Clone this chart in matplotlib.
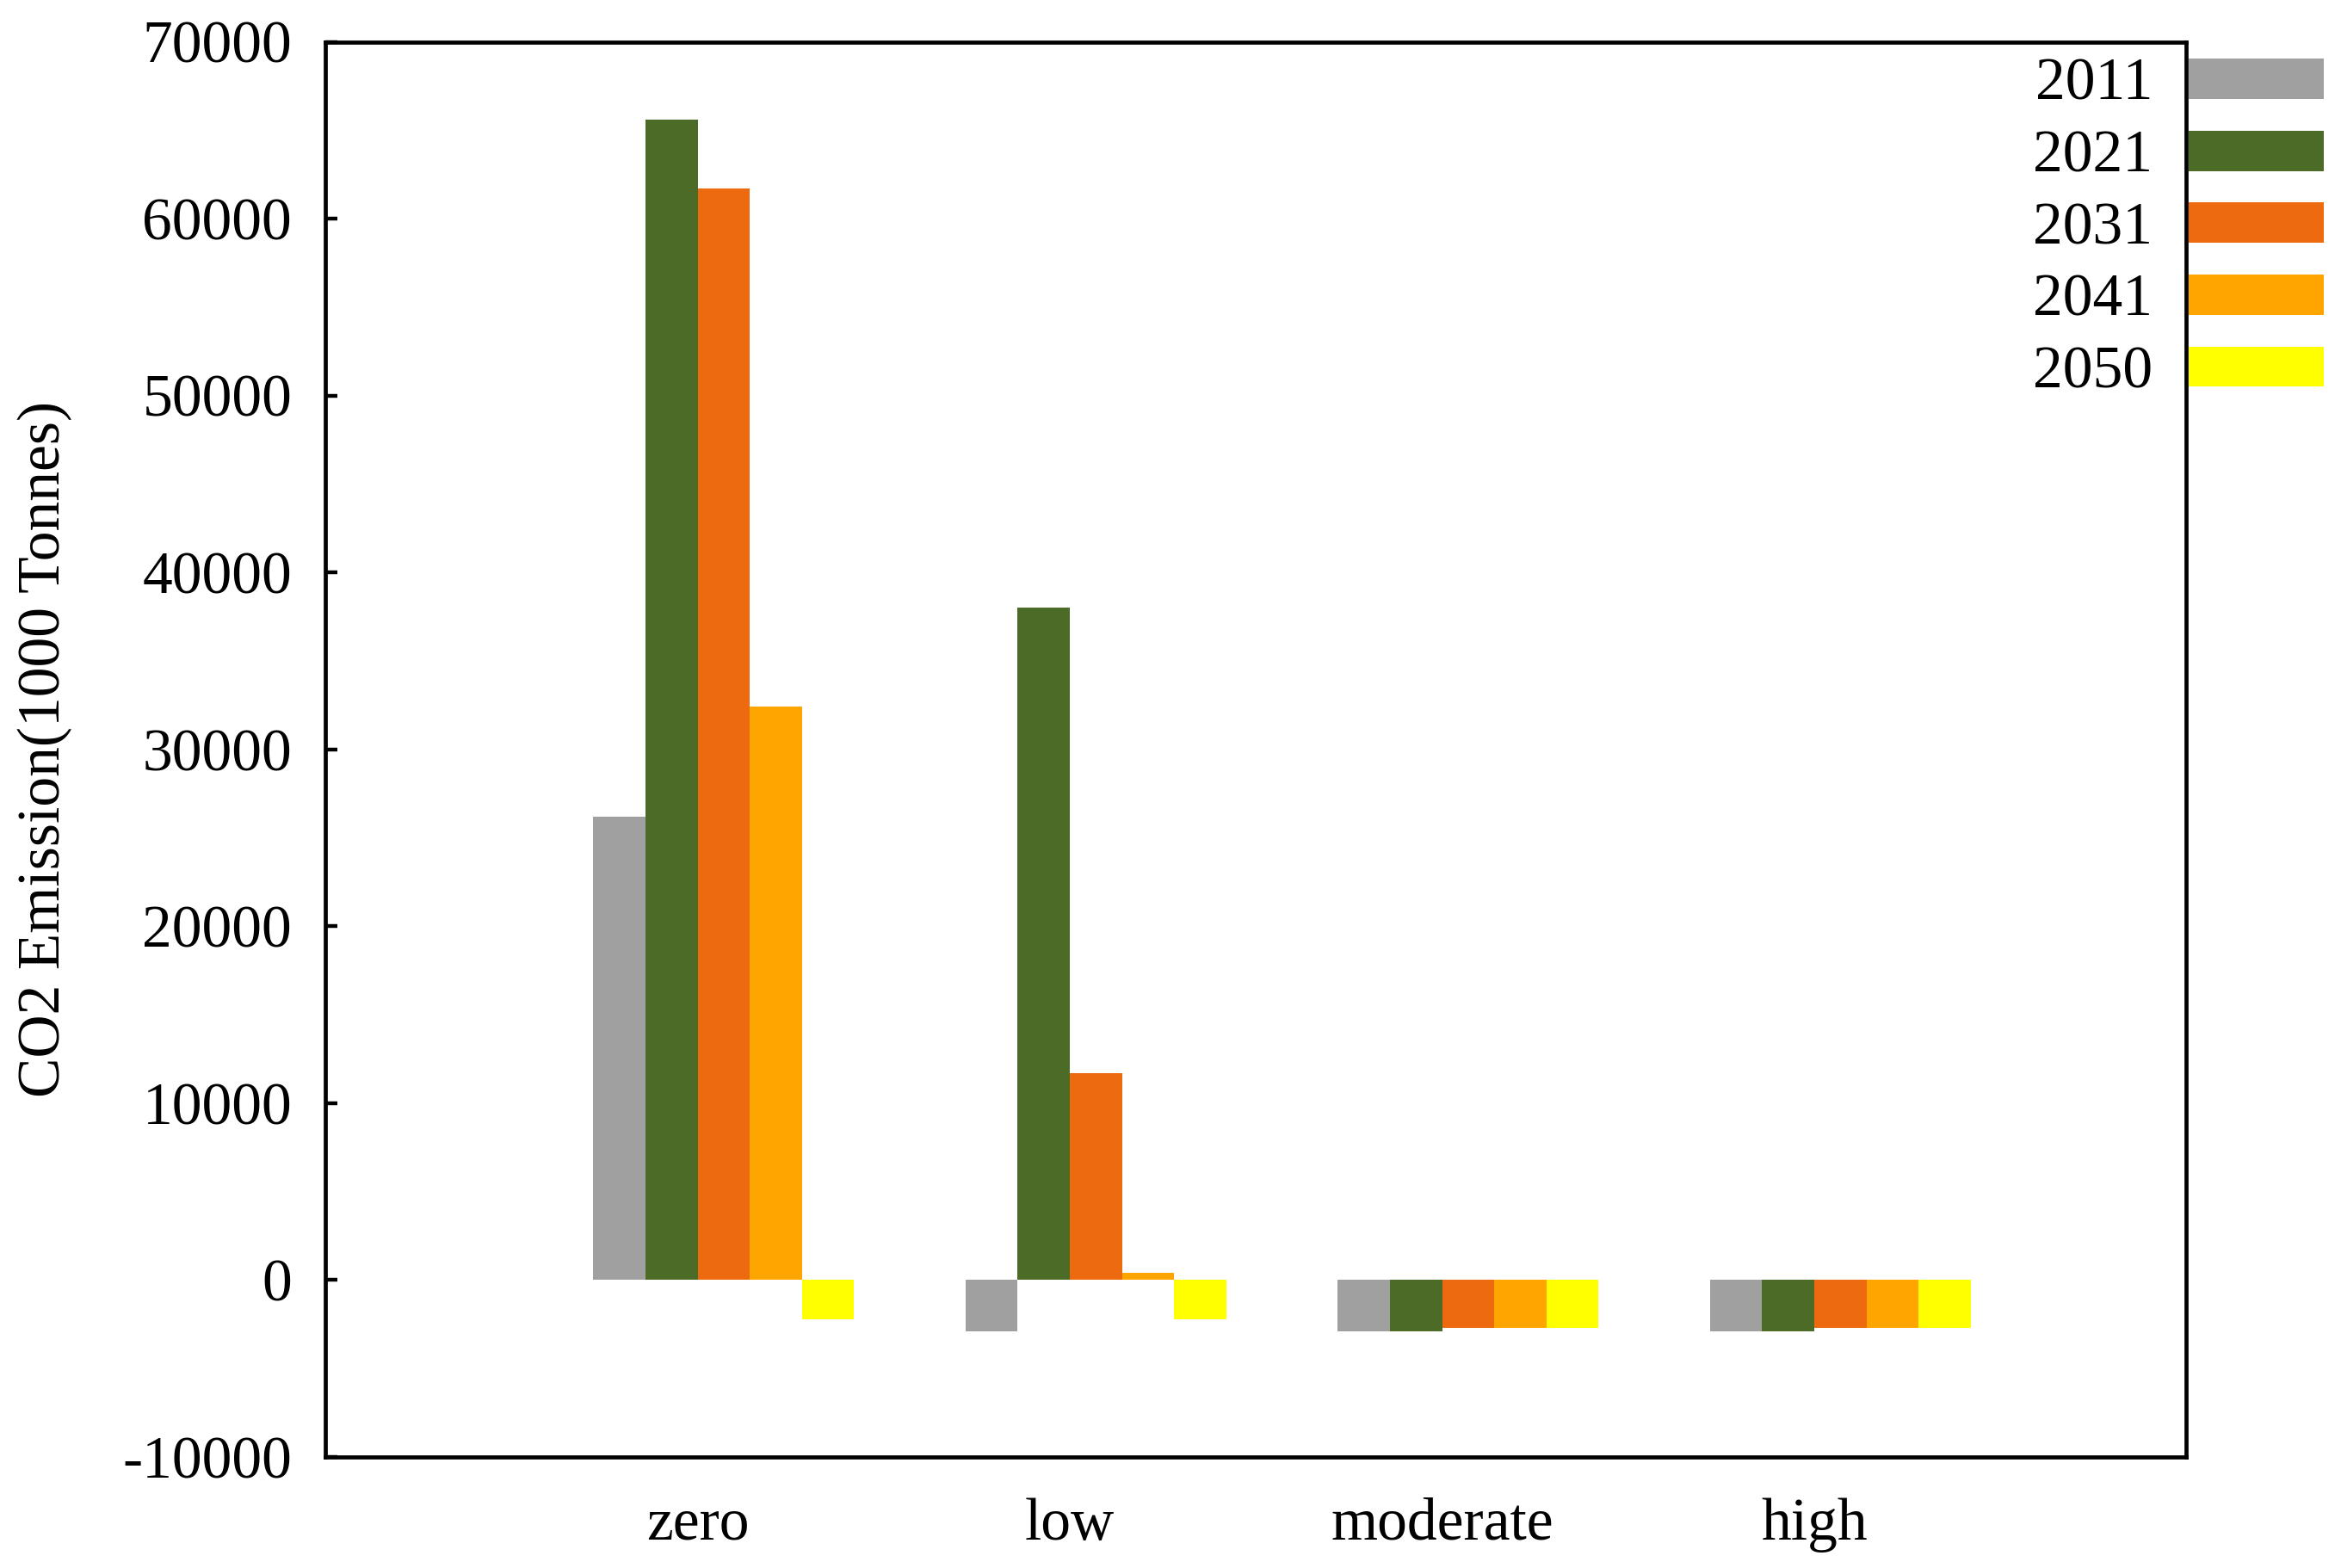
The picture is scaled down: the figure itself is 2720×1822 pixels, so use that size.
#!/usr/bin/env python3
"""Grouped bar chart of CO2 emission by scenario and year."""

import matplotlib

matplotlib.use("Agg")
import matplotlib.pyplot as plt
import numpy as np

CATEGORIES = ["zero", "low", "moderate", "high"]
YEARS = ["2011", "2021", "2031", "2041", "2050"]

# values in 1000 tonnes, one list per year (zero, low, moderate, high)
E_2011 = [26200, -2900, -2900, -2900]
E_2021 = [65600, 38000, -2900, -2900]
E_2031 = [61700, 11700, -2700, -2700]
E_2041 = [32400, 400, -2700, -2700]
E_2050 = [-2200, -2200, -2700, -2700]

Y_TICKS = [-10000, 0, 10000, 20000, 30000, 40000, 50000, 60000, 70000]

COLORS = ["#A0A0A0", "#4B6B27", "#ED6A0E", "#FFA500", "#FFFF00"]
FONT_SIZE = 25
BAR_WIDTH = 0.14


def main():
    plt.rcParams["font.family"] = ["Liberation Serif", "DejaVu Serif"]
    plt.rcParams["font.size"] = FONT_SIZE

    fig = plt.figure(figsize=(13.6, 9.11), dpi=200)
    ax = fig.add_axes([0.139, 0.0708, 0.795, 0.9025])

    series = [E_2011, E_2021, E_2031, E_2041, E_2050]
    x = np.arange(1, len(CATEGORIES) + 1)
    handles = []
    for j, (values, color) in enumerate(zip(series, COLORS)):
        bars = ax.bar(x + (j - 2) * BAR_WIDTH, values, BAR_WIDTH, color=color,
                      linewidth=0)
        handles.append(bars)

    ax.set_xlim(-0.07, 4.93)
    ax.set_ylim(-10000, 70000)
    ax.set_yticks(Y_TICKS)
    ax.set_yticklabels([str(v) for v in Y_TICKS])
    ax.set_xticks(x - BAR_WIDTH / 2)
    ax.set_xticklabels(CATEGORIES)

    for spine in ax.spines.values():
        spine.set_linewidth(1.7)
    ax.tick_params(axis="y", direction="in", length=5, width=1.6, pad=14,
                   labelsize=FONT_SIZE, right=False)
    ax.tick_params(axis="x", length=0, pad=17, labelsize=FONT_SIZE)

    ax.set_ylabel("CO2 Emission(1000 Tonnes)", fontsize=FONT_SIZE)
    ax.yaxis.set_label_coords(-0.136, 0.5)

    fig.legend(
        handles,
        YEARS,
        loc="upper right",
        bbox_to_anchor=(0.9926, 0.963),
        markerfirst=False,
        frameon=False,
        borderaxespad=0,
        borderpad=0,
        handlelength=2.26,
        handleheight=0.66,
        handletextpad=0.6,
        labelspacing=0.29,
        fontsize=FONT_SIZE,
    )

    fig.savefig("out.png", dpi=200, facecolor="white")
    plt.close(fig)


if __name__ == "__main__":
    main()
